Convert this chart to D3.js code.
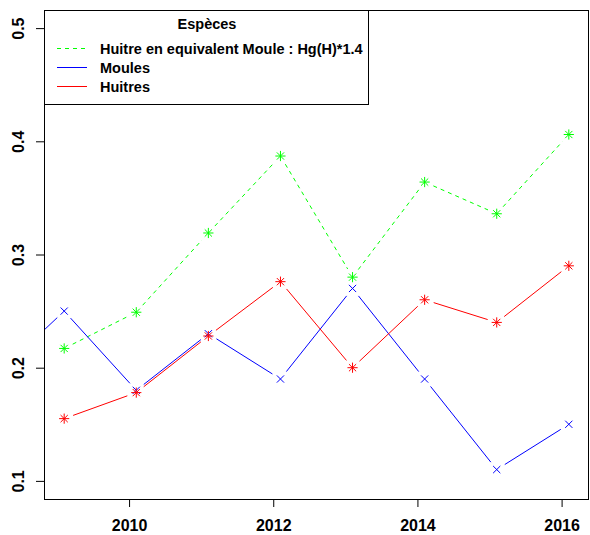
<!DOCTYPE html>
<html>
<head>
<meta charset="utf-8">
<script src="https://cdn.jsdelivr.net/npm/d3@7"></script>
<style>
  body { margin: 0; background: white; }
</style>
</head>
<body>
<div id="chart"></div>
<script>

// sampling dates (years) and Hg values
const moulesYears = [2008.1, 2009.1, 2010.1, 2011.1, 2012.1, 2013.1, 2014.1, 2015.1, 2016.1];
const moules = [0.19, 0.25, 0.18, 0.23, 0.19, 0.27, 0.19, 0.11, 0.15];

const huitresYears = [2009.1, 2010.1, 2011.1, 2012.1, 2013.1, 2014.1, 2015.1, 2016.1];
const huitres = [0.155, 0.178, 0.228, 0.276, 0.200, 0.260, 0.240, 0.290];
const huitresEq = [0.217, 0.249, 0.319, 0.387, 0.280, 0.364, 0.336, 0.406];

const xTicks = [2010, 2012, 2014, 2016];
const yTicks = [0.1, 0.2, 0.3, 0.4, 0.5];

const legendTitle = 'Espèces';
const legendLabels = ['Huitre en equivalent Moule : Hg(H)*1.4', 'Moules', 'Huitres'];

const font = "'Liberation Sans', Arial, sans-serif";

let width = 590;
let height = 535;
let plotLeft = 44, plotRight = 589, plotTop = 10, plotBottom = 499;

let svg = d3.select('#chart').append('svg')
  .attr('width', width)
  .attr('height', height);

// R-style axes: data range padded by 4% on each side
let x = d3.scaleLinear().domain([2008.82, 2016.38]).range([plotLeft, plotRight]);
let y = d3.scaleLinear().domain([0.084, 0.516]).range([plotBottom, plotTop]);

svg.append('clipPath').attr('id', 'plotClip')
  .append('rect')
  .attr('x', plotLeft).attr('y', plotTop)
  .attr('width', plotRight - plotLeft).attr('height', plotBottom - plotTop);

// Lines with gaps around the points (type = "b")
function drawSeries(xs, ys, color, dash, marker) {
  let g = svg.append('g').attr('clip-path', 'url(#plotClip)');
  let gap = 9.5;
  let makeLine = d3.line();
  for (let i = 0; i < xs.length - 1; i++) {
    let x1 = x(xs[i]), y1 = y(ys[i]);
    let x2 = x(xs[i + 1]), y2 = y(ys[i + 1]);
    let len = Math.hypot(x2 - x1, y2 - y1);
    if (len <= 2 * gap) continue;
    let ux = (x2 - x1) / len, uy = (y2 - y1) / len;
    g.append('path')
      .attr('d', makeLine([[x1 + ux * gap, y1 + uy * gap], [x2 - ux * gap, y2 - uy * gap]]))
      .attr('fill', 'none')
      .attr('stroke', color)
      .attr('stroke-width', 1)
      .attr('stroke-dasharray', dash);
  }
  for (let i = 0; i < xs.length; i++) {
    g.append('path')
      .attr('d', marker)
      .attr('transform', 'translate(' + x(xs[i]) + ',' + y(ys[i]) + ')')
      .attr('fill', 'none')
      .attr('stroke', color)
      .attr('stroke-width', 1);
  }
}

function crossPath(r) {
  return 'M' + (-r) + ',' + (-r) + 'L' + r + ',' + r +
         'M' + (-r) + ',' + r + 'L' + r + ',' + (-r);
}
function starPath(r) {
  let p = r * Math.SQRT2;
  return crossPath(r) + 'M' + (-p) + ',0L' + p + ',0M0,' + (-p) + 'L0,' + p;
}

drawSeries(huitresYears, huitresEq, '#00ff00', '4,4', starPath(3.6));
drawSeries(moulesYears, moules, '#0000ff', null, crossPath(3.6));
drawSeries(huitresYears, huitres, '#ff0000', null, starPath(3.6));

// x axis
let xAxis = svg.append('g')
  .attr('transform', 'translate(0,' + plotBottom + ')')
  .call(d3.axisBottom(x).tickValues(xTicks).tickSize(8).tickPadding(13).tickFormat(d3.format('d')));
xAxis.select('.domain').remove();
xAxis.selectAll('text')
  .attr('font-size', 16)
  .attr('font-weight', 'bold')
  .attr('font-family', font)
  .attr('fill', 'black');

// y axis, labels turned like R's default
let yAxis = svg.append('g')
  .attr('transform', 'translate(' + plotLeft + ',0)')
  .call(d3.axisLeft(y).tickValues(yTicks).tickSize(8).tickFormat(d3.format('.1f')));
yAxis.select('.domain').remove();
yAxis.selectAll('text')
  .attr('x', 0)
  .attr('dy', 0)
  .attr('text-anchor', 'middle')
  .attr('transform', 'translate(-20,0) rotate(-90)')
  .attr('font-size', 16)
  .attr('font-weight', 'bold')
  .attr('font-family', font)
  .attr('fill', 'black');

// plot box
svg.append('rect')
  .attr('x', plotLeft + 0.5).attr('y', plotTop + 0.5)
  .attr('width', plotRight - plotLeft - 1).attr('height', plotBottom - plotTop)
  .attr('fill', 'none')
  .attr('stroke', 'black')
  .attr('stroke-width', 1);

// legend
let legend = svg.append('g');
legend.append('rect')
  .attr('x', plotLeft + 0.5).attr('y', plotTop + 0.5)
  .attr('width', 324).attr('height', 94)
  .attr('fill', 'white')
  .attr('stroke', 'black');

legend.append('text')
  .text(legendTitle)
  .attr('x', 207).attr('y', 29)
  .attr('text-anchor', 'middle')
  .attr('font-size', 14.5)
  .attr('font-weight', 'bold')
  .attr('font-family', font);

const legendColors = ['#00ff00', '#0000ff', '#ff0000'];
const legendDash = ['4,4', null, null];
for (let i = 0; i < legendLabels.length; i++) {
  let rowY = 48.5 + i * 19;
  legend.append('line')
    .attr('x1', 57).attr('x2', 87)
    .attr('y1', rowY).attr('y2', rowY)
    .attr('stroke', legendColors[i])
    .attr('stroke-width', 1)
    .attr('stroke-dasharray', legendDash[i]);
  legend.append('text')
    .text(legendLabels[i])
    .attr('x', 100).attr('y', rowY + 5.5)
    .attr('font-size', 14.5)
    .attr('font-weight', 'bold')
    .attr('font-family', font);
}

</script>
</body>
</html>
